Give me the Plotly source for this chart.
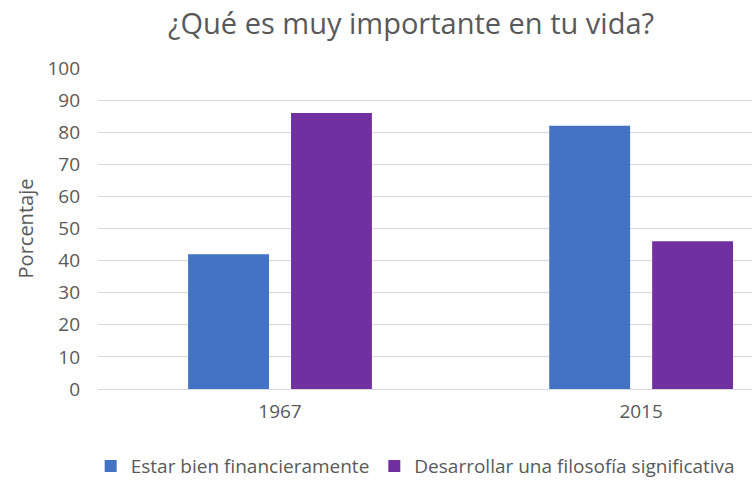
import plotly.graph_objects as go

years = ["1967", "2015"]
series_names = ["Estar bien financieramente", "Desarrollar una filosofía significativa"]
finance = [42, 82]
philosophy = [86, 46]
colors = ["#4472C4", "#7030A0"]

fig = go.Figure()
for name, vals, col in zip(series_names, [finance, philosophy], colors):
    fig.add_trace(go.Bar(x=years, y=vals, name=name, marker_color=col,
                         marker_line_width=0))

font_family = "'Open Sans', Lato, sans-serif"
fig.update_layout(
    width=754, height=480,
    margin=dict(l=98, r=2, t=68, b=91, autoexpand=False),
    paper_bgcolor="white", plot_bgcolor="white",
    barmode="group", bargap=0.43, bargroupgap=0.214,
    title=dict(text="¿Qué es muy importante en tu vida?", x=411/754, xanchor="center",
               xref="container", yref="container", y=1 - 24/480, yanchor="middle",
               font=dict(family=font_family, size=29, color="#595959")),
    font=dict(family=font_family, size=19, color="#595959"),
    xaxis=dict(type="category", range=[-0.504, 1.307], showgrid=False,
               showline=True, linecolor="#D9D9D9", linewidth=1, ticks="",
               automargin=False, ticklabelstandoff=5,
               tickfont=dict(size=19, color="#595959")),
    yaxis=dict(range=[0, 100], dtick=10, showgrid=True, gridcolor="#D9D9D9",
               gridwidth=1, zeroline=False, ticks="", ticklabelstandoff=17,
               automargin=False,
               title=dict(text="Porcentaje", font=dict(size=20, color="#595959"), standoff=8),
               tickfont=dict(size=19, color="#595959")),
    legend=dict(orientation="h", x=0.485, xanchor="center", y=-0.24, yanchor="middle",
                font=dict(size=19, color="#595959"), itemwidth=30,
                traceorder="normal"),
)
fig.write_html("out.html", config={"displayModeBar": False},
               post_script="document.body.style.margin='0';document.body.style.padding='0';")
